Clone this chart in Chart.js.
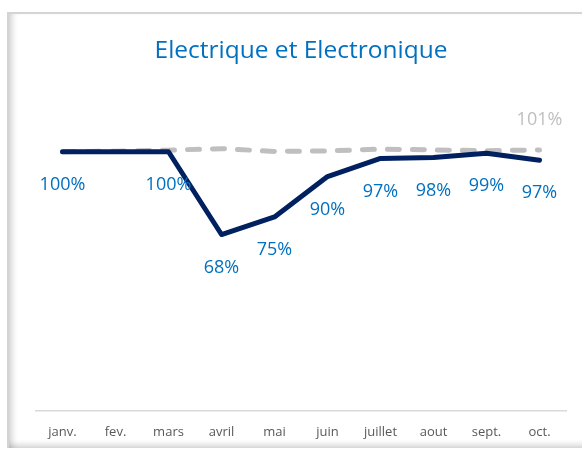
<!DOCTYPE html>
<html lang="fr">
<head>
    <meta charset="UTF-8">
    <title>Electrique et Electronique</title>
    <script src="https://cdn.jsdelivr.net/npm/chart.js"></script>
    <style>
        body { margin: 0; background: #fff; overflow: hidden; }
        #frame {
            position: absolute; left: 7px; top: 12px; width: 580px; height: 434px;
            border-top: 2px solid #d4d4d4; border-left: 2px solid #d4d4d4;
            box-shadow: inset 7px 0 6px -4px rgba(0,0,0,0.18), inset 0 -7px 6px -4px rgba(0,0,0,0.18);
        }
        #wrap { position: absolute; left: 0; top: 0; width: 582px; height: 454px; }
    </style>
</head>
<body>
    <div id="frame"></div>
    <div id="wrap"><canvas id="chart"></canvas></div>

    <script>
        // data
        const months = ['janv.', 'fev.', 'mars', 'avril', 'mai', 'juin', 'juillet', 'aout', 'sept.', 'oct.'];
        const actual = [100, 100, 100, 68, 74.8, 90.4, 97.4, 97.8, 99.4, 96.7];
        const target = [100, 100.2, 100.6, 101.2, 100.1, 100.3, 101, 100.7, 100.4, 100.7];
        const actualHiddenLabels = [1]; // fev. has no label in the original
        const targetLabelIndex = [9];   // only oct. shows its value

        const fontFamily = "'Open Sans', 'Noto Sans', sans-serif";

        // draws the value labels like the Excel data labels
        const valueLabels = {
            id: 'valueLabels',
            afterDatasetsDraw(chart) {
                const ctx = chart.ctx;
                ctx.save();
                ctx.textAlign = 'center';
                ctx.textBaseline = 'middle';
                ctx.font = '18px ' + fontFamily;

                ctx.fillStyle = '#0070C0';
                chart.getDatasetMeta(0).data.forEach((pt, i) => {
                    if (actualHiddenLabels.includes(i)) return;
                    ctx.fillText(Math.round(actual[i]) + '%', pt.x, pt.y + 33);
                });

                ctx.fillStyle = '#BFBFBF';
                const meta = chart.getDatasetMeta(1);
                targetLabelIndex.forEach(i => {
                    const pt = meta.data[i];
                    ctx.fillText(Math.round(target[i]) + '%', pt.x, pt.y - 30);
                });
                ctx.restore();
            }
        };

        const ctx = document.getElementById('chart').getContext('2d');
        new Chart(ctx, {
            type: 'line',
            data: {
                labels: months,
                datasets: [{
                    label: 'Réalisé',
                    data: actual,
                    borderColor: '#002060',
                    borderWidth: 5,
                    borderJoinStyle: 'round',
                    borderCapStyle: 'round',
                    pointRadius: 0,
                    tension: 0,
                    order: 0
                }, {
                    label: 'Objectif',
                    data: target,
                    borderColor: '#BFBFBF',
                    borderWidth: 5,
                    borderDash: [12, 13],
                    borderCapStyle: 'round',
                    pointRadius: 0,
                    tension: 0,
                    order: 1
                }]
            },
            options: {
                responsive: true,
                maintainAspectRatio: false,
                animation: false,
                layout: { padding: { top: 36, left: 36, right: 16, bottom: 0 } },
                plugins: {
                    legend: { display: false },
                    tooltip: { enabled: false },
                    title: {
                        display: true,
                        text: 'Electrique et Electronique',
                        color: '#0070C0',
                        font: { family: fontFamily, size: 24.5, weight: 'normal' },
                        padding: { top: 0, bottom: 34.6 }
                    }
                },
                scales: {
                    x: {
                        offset: true,
                        grid: { display: false, drawTicks: false },
                        border: { display: true, color: '#D9D9D9', width: 1.5 },
                        ticks: {
                            color: '#595959',
                            padding: 14,
                            maxRotation: 0,
                            autoSkip: false,
                            font: { family: fontFamily, size: 13 }
                        }
                    },
                    y: {
                        display: false,
                        min: 0,
                        max: 120
                    }
                }
            },
            plugins: [valueLabels]
        });
    </script>
</body>
</html>
